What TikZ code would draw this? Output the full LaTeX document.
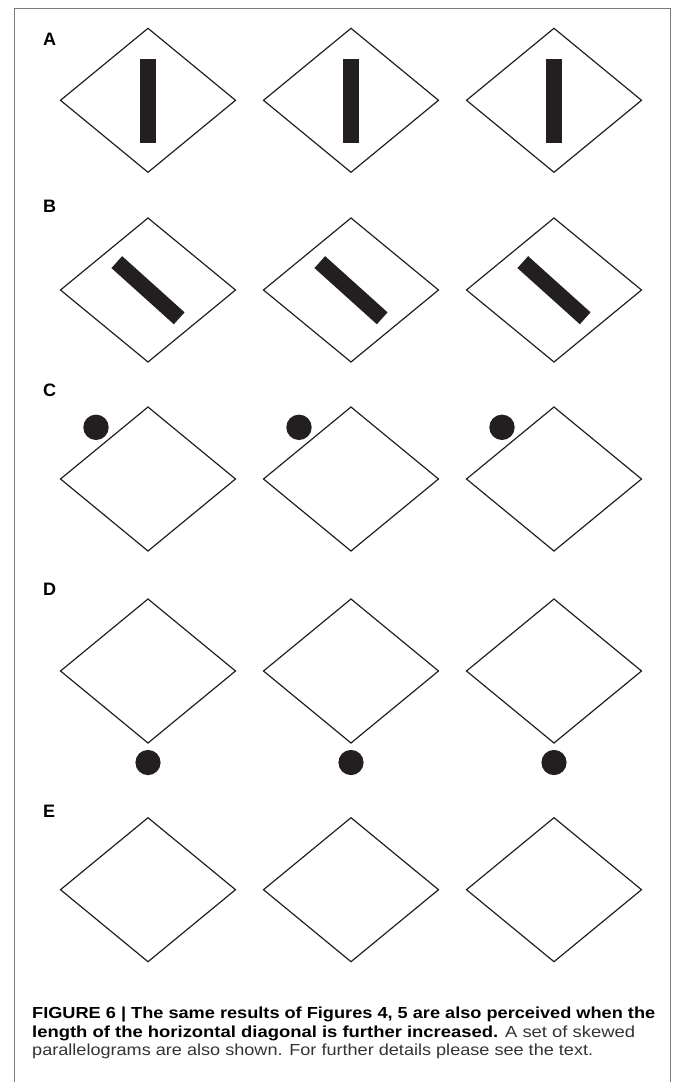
\documentclass[tikz,border=0pt]{standalone}
\usepackage{fontspec}
\setmainfont{Liberation Sans}
\usepackage{graphicx}
\definecolor{ink}{HTML}{231F20}
\definecolor{framegray}{HTML}{7A7A7A}
\begin{document}
\begin{tikzpicture}[x=1pt,y=-1pt,
  frame/.style={draw=framegray, line width=1pt},
  rhomb/.style={draw=ink, line width=1.2pt, line join=miter},
  barfill/.style={fill=ink},
  dotfill/.style={fill=ink},
  lbl/.style={anchor=base west, inner sep=0pt, font=\fontsize{18}{18}\selectfont\bfseries},
  captext/.style={anchor=base west, inner sep=0pt, font=\fontsize{16}{18}\selectfont}]
\useasboundingbox (0,0) rectangle (673,1082);
\draw[frame] (14.5,1082) -- (14.5,8) -- (670.5,8) -- (670.5,1082);
\foreach \y/\l in {45/A, 212.7/B, 396.7/C, 595.7/D, 817.7/E}
  \node[lbl] (lab\l) at (43,\y) {\l};
\foreach \cx in {148,351,554}{
  \foreach \cy in {100.3,290,479,671,889.7}{
    \draw[rhomb] (\cx-87.5,\cy) -- (\cx,\cy-72) -- (\cx+87.5,\cy) -- (\cx,\cy+72) -- cycle;
  }
  \fill[barfill] (\cx-8,58.7) rectangle (\cx+8,142.7);
  \fill[barfill,shift={(\cx,290.2)},rotate=-42] (-42,-8) rectangle (42,8);
  \fill[dotfill] (\cx-52,427.3) circle (12.7pt);
  \fill[dotfill] (\cx,762.5) circle (12.6pt);
}
\node[captext] (cap1) at (32,1018) {\resizebox{623pt}{\height}{\bfseries FIGURE 6 | The same results of Figures 4, 5 are also perceived when the}};
\node[captext] (cap2) at (32,1037) {\resizebox{603pt}{\height}{\textbf{length of the horizontal diagonal is further increased.} \color{black!80}A set of skewed}};
\node[captext] (cap3) at (32,1055.5) {\resizebox{561pt}{\height}{\color{black!80}parallelograms are also shown. For further details please see the text.}};
\end{tikzpicture}
\end{document}
